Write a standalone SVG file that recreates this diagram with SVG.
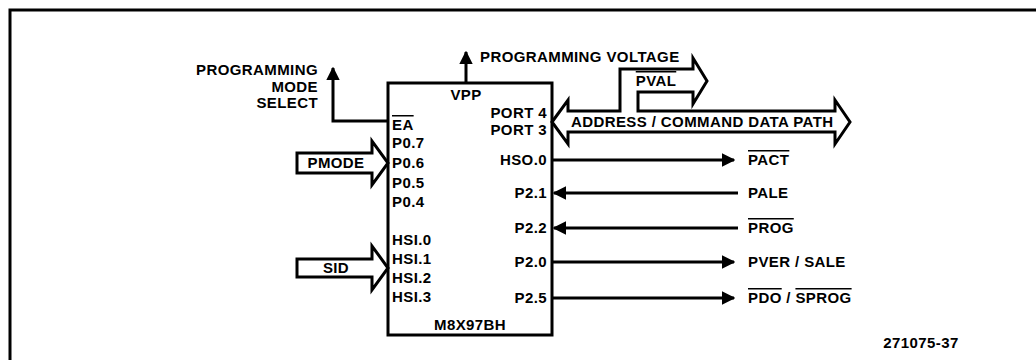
<svg xmlns="http://www.w3.org/2000/svg" width="1036" height="360" viewBox="0 0 1036 360">
<defs>
<style>
text{font-family:"Liberation Sans",Arial,sans-serif;font-weight:bold;font-size:15px;letter-spacing:0.4px;fill:#000}
.end{text-anchor:end}
.mid{text-anchor:middle}
.ol{text-decoration:overline}
.ln{stroke:#000;stroke-width:3;fill:none}
.hollow{stroke:#000;stroke-width:3;fill:#fff;stroke-linejoin:miter}
</style>
<marker id="ah" viewBox="0 0 10 10" refX="9" refY="5" markerWidth="4.5" markerHeight="4.5" orient="auto" markerUnits="strokeWidth">
<path d="M0,0 L10,5 L0,10 z" fill="#000"/>
</marker>
</defs>
<rect width="1036" height="360" fill="#fff"/>
<path d="M10,360 V10 H1036" stroke="#000" stroke-width="3" fill="none"/>

<g id="chip">
<rect x="388" y="83" width="164" height="252" fill="#fff" stroke="#000" stroke-width="3"/>
<text x="466" y="100" class="mid">VPP</text>
<text x="547" y="118" class="end">PORT 4</text>
<text x="547" y="135" class="end">PORT 3</text>
<text x="547" y="165" class="end">HSO.0</text>
<text x="547" y="198" class="end">P2.1</text>
<text x="547" y="233" class="end">P2.2</text>
<text x="547" y="267" class="end">P2.0</text>
<text x="547" y="303" class="end">P2.5</text>
<text x="392" y="130"><tspan class="ol">EA</tspan></text>
<text x="392" y="148">P0.7</text>
<text x="392" y="168">P0.6</text>
<text x="392" y="188">P0.5</text>
<text x="392" y="207">P0.4</text>
<text x="392" y="245">HSI.0</text>
<text x="392" y="264">HSI.1</text>
<text x="392" y="283">HSI.2</text>
<text x="392" y="302">HSI.3</text>
<text x="470" y="330" class="mid">M8X97BH</text>
</g>

<g id="mode-select">
<text x="318" y="75" class="end">PROGRAMMING</text>
<text x="318" y="92" class="end">MODE</text>
<text x="318" y="108" class="end">SELECT</text>
</g>

<g id="prog-voltage">
<text x="480" y="62">PROGRAMMING VOLTAGE</text>
</g>

<g id="pmode">
<path class="hollow" d="M297,153 H372 V141 L388,163 L372,185 V173 H297 Z"/>
<text x="336" y="168" class="mid">PMODE</text>
</g>

<g id="sid">
<path class="hollow" d="M297,259 H372 V246 L388,268 L372,290 V277 H297 Z"/>
<text x="336" y="273" class="mid">SID</text>
</g>

<g id="bus">
<path class="hollow" d="M552,122 L568,100 V111 H620 V69 H693 V58 L707,81 L693,104 V92 H638 V111 H835 V100 L850,122 L835,144 V132 H568 V144 Z"/>
<text x="656" y="86" class="mid"><tspan class="ol">PVAL</tspan></text>
<text x="571" y="127">ADDRESS / COMMAND DATA PATH</text>
</g>

<g id="signals">
<text x="748" y="165"><tspan class="ol">PACT</tspan></text>
<text x="748" y="198">PALE</text>
<text x="748" y="233"><tspan class="ol">PROG</tspan></text>
<text x="748" y="267">PVER / SALE</text>
<text x="748" y="303"><tspan class="ol">PDO</tspan> / <tspan class="ol">SPROG</tspan></text>
<text x="921" y="348" class="mid">271075-37</text>
</g>

<g id="connectors">
<path class="ln" d="M388,121 H333 V68" marker-end="url(#ah)"/>
<path class="ln" d="M466,83 V52" marker-end="url(#ah)"/>
<path class="ln" d="M553,160 H734" marker-end="url(#ah)"/>
<path class="ln" d="M738,193 H554" marker-end="url(#ah)"/>
<path class="ln" d="M738,228 H554" marker-end="url(#ah)"/>
<path class="ln" d="M553,262 H734" marker-end="url(#ah)"/>
<path class="ln" d="M553,298 H734" marker-end="url(#ah)"/>
</g>
</svg>
